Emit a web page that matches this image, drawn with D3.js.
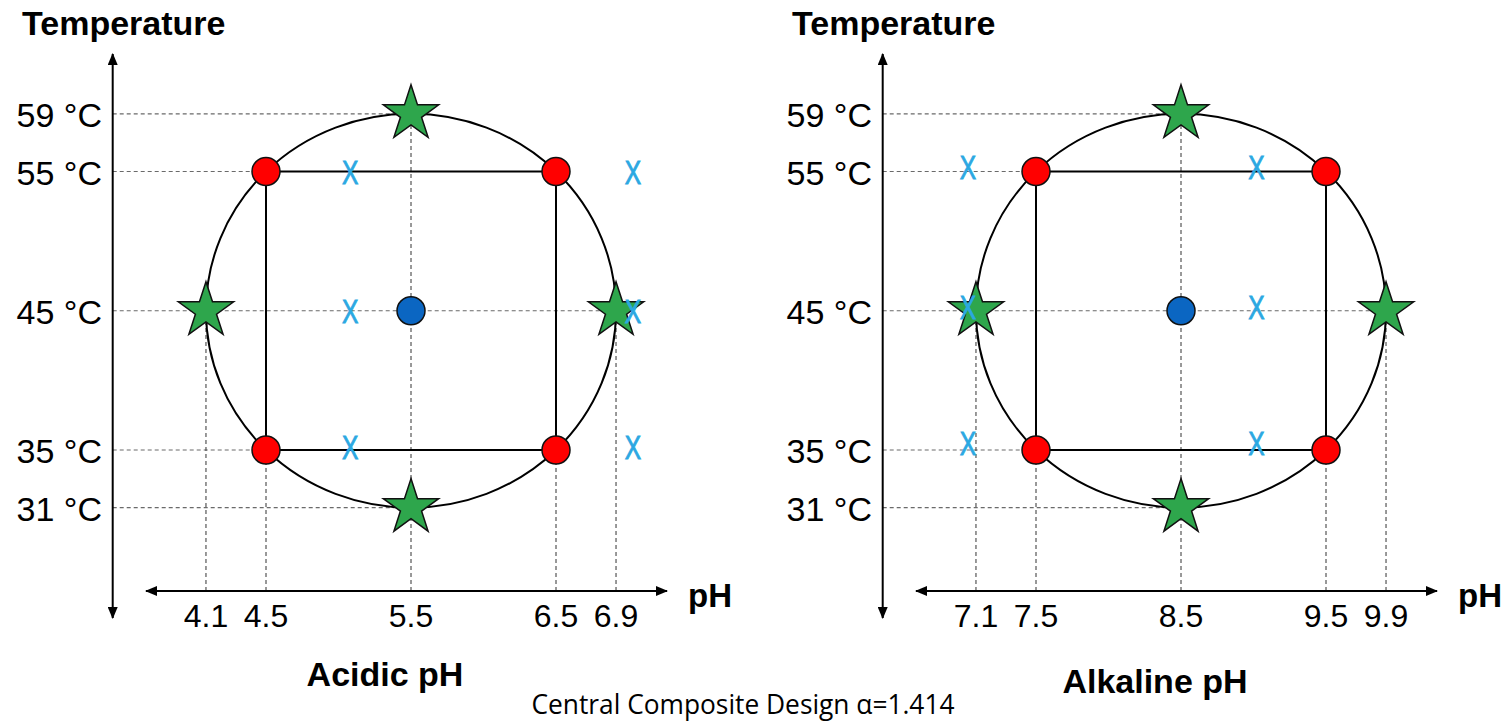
<!DOCTYPE html>
<html>
<head>
<meta charset="utf-8">
<script src="https://cdn.jsdelivr.net/npm/d3@7"></script>
<style>
  body { margin: 0; background: #fff; }
  svg { display: block; }
</style>
</head>
<body>
<svg id="chart" width="1506" height="721"></svg>
<script>
// design in coded units
const alpha = 1.414;
const codedLevels = [-alpha, -1, 0, 1, alpha];
const factorialPts = [[-1, -1], [1, -1], [-1, 1], [1, 1]];
const axialPts = [[-alpha, 0], [alpha, 0], [0, -alpha], [0, alpha]];
const centerPts = [[0, 0]];

// level labels
const tempLabels = ['31 °C', '35 °C', '45 °C', '55 °C', '59 °C'];
const acidicPhLabels = ['4.1', '4.5', '5.5', '6.5', '6.9'];
const alkalinePhLabels = ['7.1', '7.5', '8.5', '9.5', '9.9'];

// blue "X" markers (coded positions)
const acidicMarkX = [-0.42, 1.53];
const acidicMarkY = [1, 0, -0.98];
const alkalineMarkX = [-1.47, 0.52];
const alkalineMarkY = [1.03, 0.03, -0.95];

const panels = [
  { name: 'Acidic pH', phLabels: acidicPhLabels, markX: acidicMarkX, markY: acidicMarkY, offset: 0, titleY: 686 },
  { name: 'Alkaline pH', phLabels: alkalinePhLabels, markX: alkalineMarkX, markY: alkalineMarkY, offset: 770, titleY: 693 }
];

const svg = d3.select('#chart');
const font = '"Liberation Sans", Arial, Helvetica, sans-serif';

// arrow head
svg.append('defs')
  .append('marker')
  .attr('id', 'arrow')
  .attr('markerUnits', 'userSpaceOnUse')
  .attr('markerWidth', 12)
  .attr('markerHeight', 10)
  .attr('refX', 11)
  .attr('refY', 5)
  .attr('orient', 'auto-start-reverse')
  .append('path')
  .attr('d', 'M0,0 L12,5 L0,10 Z')
  .attr('fill', '#000');

const y = d3.scaleLinear().domain([-1, 1]).range([450, 171.5]);

panels.forEach(p => {
  const off = p.offset;
  const x = d3.scaleLinear().domain([-1, 1]).range([266 + off, 556 + off]);
  const axisX = 112.7 + off;
  const axisY = 591;
  const g = svg.append('g');

  // horizontal dashed guides (temperature levels)
  const hTargets = [0, -1, alpha, -1, 0];
  g.append('g')
    .selectAll('line')
    .data(codedLevels)
    .join('line')
    .attr('x1', axisX)
    .attr('x2', (d, i) => x(hTargets[i]))
    .attr('y1', d => y(d))
    .attr('y2', d => y(d))
    .attr('stroke', '#6a6a6a')
    .attr('stroke-width', 1.2)
    .attr('stroke-dasharray', '4,3');

  // vertical dashed guides (pH levels)
  const vTargets = [0, -1, alpha, -1, 0];
  g.append('g')
    .selectAll('line')
    .data(codedLevels)
    .join('line')
    .attr('x1', d => x(d))
    .attr('x2', d => x(d))
    .attr('y1', axisY)
    .attr('y2', (d, i) => y(vTargets[i]))
    .attr('stroke', '#333')
    .attr('stroke-width', 1)
    .attr('stroke-dasharray', '4,3');

  // factorial square
  g.append('rect')
    .attr('x', x(-1))
    .attr('y', y(1))
    .attr('width', x(1) - x(-1))
    .attr('height', y(-1) - y(1))
    .attr('fill', 'none')
    .attr('stroke', '#000')
    .attr('stroke-width', 2);

  // circle through axial points
  g.append('ellipse')
    .attr('cx', x(0))
    .attr('cy', y(0))
    .attr('rx', x(alpha) - x(0))
    .attr('ry', y(0) - y(alpha))
    .attr('fill', 'none')
    .attr('stroke', '#000')
    .attr('stroke-width', 2);

  // axes
  g.append('line')
    .attr('x1', axisX).attr('x2', axisX)
    .attr('y1', 54).attr('y2', 618)
    .attr('stroke', '#000').attr('stroke-width', 2)
    .attr('marker-start', 'url(#arrow)')
    .attr('marker-end', 'url(#arrow)');

  g.append('line')
    .attr('x1', 146 + off).attr('x2', 667 + off)
    .attr('y1', axisY).attr('y2', axisY)
    .attr('stroke', '#000').attr('stroke-width', 2)
    .attr('marker-start', 'url(#arrow)')
    .attr('marker-end', 'url(#arrow)');

  // axis texts
  g.append('text')
    .attr('x', 22 + off).attr('y', 35)
    .style('font-family', font).style('font-size', '34px').style('font-weight', 'bold')
    .text('Temperature');

  g.append('g')
    .selectAll('text')
    .data(codedLevels)
    .join('text')
    .attr('x', 102 + off)
    .attr('y', d => y(d) + 13)
    .attr('text-anchor', 'end')
    .style('font-family', font).style('font-size', '34px')
    .text((d, i) => tempLabels[i]);

  g.append('g')
    .selectAll('text')
    .data(codedLevels)
    .join('text')
    .attr('x', d => x(d))
    .attr('y', 627)
    .attr('text-anchor', 'middle')
    .style('font-family', font).style('font-size', '32px')
    .text((d, i) => p.phLabels[i]);

  g.append('text')
    .attr('x', 688 + off).attr('y', 607)
    .style('font-family', font).style('font-size', '33px').style('font-weight', 'bold')
    .text('pH');

  g.append('text')
    .attr('x', x(0) - 26).attr('y', p.titleY)
    .attr('text-anchor', 'middle')
    .style('font-family', font).style('font-size', '34px').style('font-weight', 'bold')
    .text(p.name);

  // factorial points
  g.append('g')
    .selectAll('circle')
    .data(factorialPts)
    .join('circle')
    .attr('cx', d => x(d[0]))
    .attr('cy', d => y(d[1]))
    .attr('r', 14)
    .attr('fill', '#ff0000')
    .attr('stroke', '#111')
    .attr('stroke-width', 1.5);

  // center point
  g.append('g')
    .selectAll('circle')
    .data(centerPts)
    .join('circle')
    .attr('cx', d => x(d[0]))
    .attr('cy', d => y(d[1]))
    .attr('r', 14)
    .attr('fill', '#0b66c2')
    .attr('stroke', '#111')
    .attr('stroke-width', 1.5);

  // axial points
  g.append('g')
    .selectAll('path')
    .data(axialPts)
    .join('path')
    .attr('transform', d => `translate(${x(d[0])},${y(d[1])})`)
    .attr('d', d3.symbol().type(d3.symbolStar).size(950))
    .attr('fill', '#2ea64c')
    .attr('stroke', '#111')
    .attr('stroke-width', 1.5)
    .attr('stroke-linejoin', 'miter');

  // X markers (tall, narrow glyph)
  const marks = p.markY.flatMap(my => p.markX.map(mx => [mx, my]));
  g.append('g')
    .selectAll('text')
    .data(marks)
    .join('text')
    .attr('transform', d => `translate(${x(d[0])},${y(d[1]) + 12}) scale(0.82,1.1)`)
    .attr('text-anchor', 'middle')
    .style('font-family', font).style('font-size', '30px')
    .attr('fill', '#2ba8e2')
    .attr('stroke', '#2ba8e2')
    .attr('stroke-width', 0.8)
    .text('X');
});

// caption
svg.append('text')
  .attr('x', 743).attr('y', 714)
  .attr('text-anchor', 'middle')
  .attr('textLength', 423)
  .attr('lengthAdjust', 'spacingAndGlyphs')
  .style('font-family', '"Open Sans", "Noto Sans", sans-serif')
  .style('font-size', '28px')
  .text('Central Composite Design α=1.414');
</script>
</body>
</html>
